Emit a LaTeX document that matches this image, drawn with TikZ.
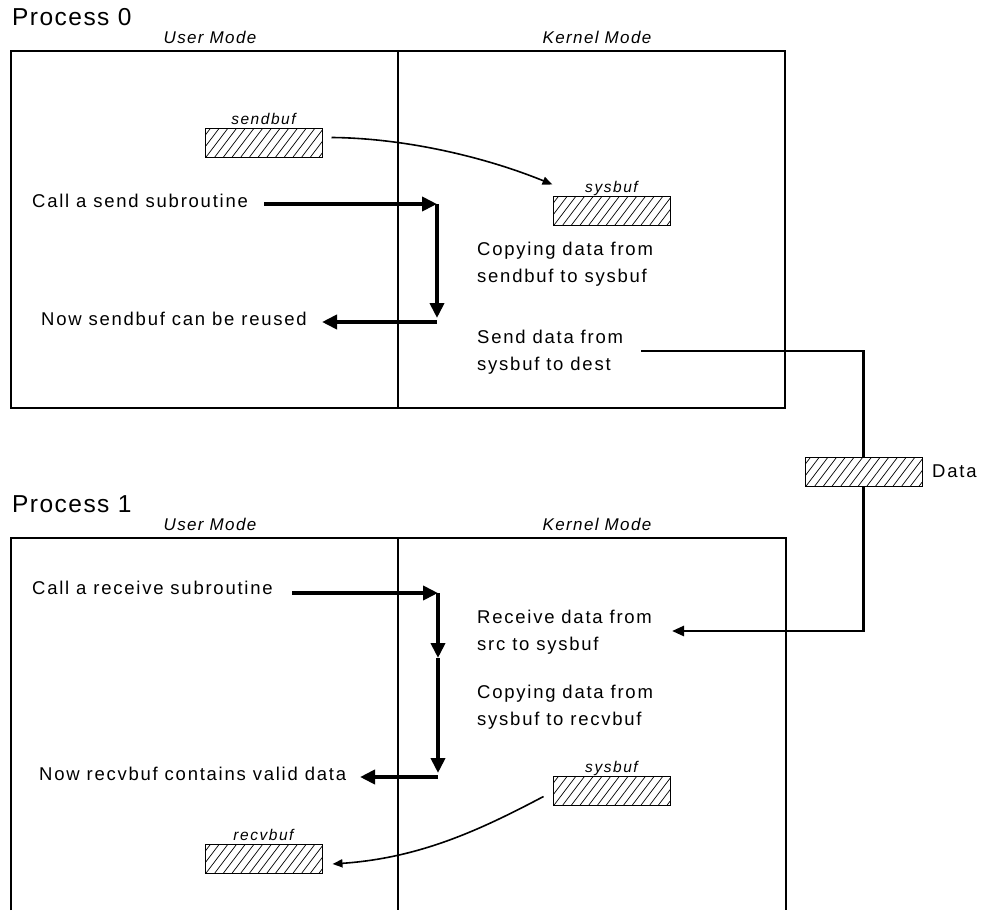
\documentclass[tikz,border=0pt]{standalone}
\usepackage{fontspec}
\setmainfont{Liberation Sans}
\usetikzlibrary{arrows.meta}

\begin{document}
\begin{tikzpicture}[x=1pt,y=-1pt,
  frame/.style={line width=2pt},
  txt/.style={inner sep=0pt, anchor=base west,
    font=\fontsize{18.5}{22}\selectfont\addfontfeature{LetterSpace=9.5}},
  title/.style={inner sep=0pt, anchor=base west,
    font=\fontsize{24.5}{28}\selectfont\addfontfeature{LetterSpace=6}},
  mode/.style={inner sep=0pt, anchor=base,
    font=\fontsize{17}{20}\selectfont\itshape\addfontfeature{LetterSpace=8}},
  buflabel/.style={inner sep=0pt, anchor=base,
    font=\fontsize{15.5}{18}\selectfont\itshape\addfontfeature{LetterSpace=10}},
  buf/.style={draw, line width=1pt, fill=white, minimum width=117pt,
    minimum height=29pt, inner sep=0pt,
    path picture={\foreach \k in {0,...,17}{
      \draw[line width=0.7pt] ([xshift={\k*8.7pt-25pt}]path picture bounding box.south west) -- ++(22,-29);}}},
  bigarrow/.style={line width=4pt, -{Triangle[length=15pt,width=14pt]}},
  copyarrow/.style={line width=1.6pt, -{Triangle[length=10pt,width=8pt]}},
  wire/.style={line width=2.6pt},
  wirearrow/.style={line width=2.6pt, -{Triangle[length=12pt,width=10pt]}}
]
\useasboundingbox (0,0) rectangle (982,910);

% ---------- Process 0 ----------
\node[title] (p0) at (12,25) {Process 0};
\node[mode] (um0) at (210,43) {User Mode};
\node[mode] (km0) at (597,43) {Kernel Mode};
\draw[frame] (11,51) rectangle (785,408);
\draw[frame] (398,51) -- (398,408);

\node[buf] (sendbuf) at (263.5,142.5) {};
\node[buflabel] (sendbufL) at ([yshift=3pt]sendbuf.north) {sendbuf};
\node[buf] (sysbuf0) at (611.5,210.5) {};
\node[buflabel] (sysbuf0L) at ([yshift=3pt]sysbuf0.north) {sysbuf};

\draw[copyarrow] ([xshift=9pt,yshift=5pt]sendbuf.east)
  .. controls (400,138) and (480,155) .. ([yshift=11pt]sysbuf0.north west);

\node[txt] (callsend) at (32,207) {Call a send subroutine};
\node[txt] (reused) at (41,325) {Now sendbuf can be reused};
\node[txt] (cp0a) at (477,255) {Copying data from};
\node[txt] (cp0b) at (477,282) {sendbuf to sysbuf};
\node[txt] (snd0a) at (477,343) {Send data from};
\node[txt] (snd0b) at (477,370) {sysbuf to dest};

\coordinate (s0) at (264,204);
\coordinate (s1) at (437,204);
\coordinate (s2) at (437,318);
\coordinate (s3) at (437,322);
\coordinate (s4) at (322,322);
\draw[bigarrow] (s0) -- (s1);
\draw[bigarrow] (s1) -- (s2);
\draw[bigarrow] (s3) -- (s4);

% ---------- transfer between the processes ----------
\coordinate (w0) at (641,351);
\coordinate (w1) at (672,631);
\node[buf] (databuf) at (863.5,471.5) {};
\node[txt] (dataL) at (932,477) {Data};
\draw[wire] (w0) -| (databuf.north);
\draw[wirearrow] (databuf.south) |- (w1);

% ---------- Process 1 ----------
\node[title] (p1) at (12,512) {Process 1};
\node[mode] (um1) at (210,530) {User Mode};
\node[mode] (km1) at (597,530) {Kernel Mode};
\draw[frame] (11,910) -- (11,538) -- (786,538) -- (786,910);
\draw[frame] (398,538) -- (398,910);

\node[txt] (callrecv) at (32,594) {Call a receive subroutine};
\node[txt] (valid) at (39,780) {Now recvbuf contains valid data};
\node[txt] (rc1a) at (477,623) {Receive data from};
\node[txt] (rc1b) at (477,650) {src to sysbuf};
\node[txt] (cp1a) at (477,698) {Copying data from};
\node[txt] (cp1b) at (477,725) {sysbuf to recvbuf};

\coordinate (r0) at (292,593);
\coordinate (r1) at (438,593);
\coordinate (r2) at (438,658);
\coordinate (r3) at (438,773);
\coordinate (r4) at (438,777);
\coordinate (r5) at (360,777);
\draw[bigarrow] (r0) -- (r1);
\draw[bigarrow] (r1) -- (r2);
\draw[bigarrow] (r2) -- (r3);
\draw[bigarrow] (r4) -- (r5);

\node[buf] (sysbuf1) at (611.5,790.5) {};
\node[buflabel] (sysbuf1L) at ([yshift=3pt]sysbuf1.north) {sysbuf};
\node[buf] (recvbuf) at (263.5,858.5) {};
\node[buflabel] (recvbufL) at ([yshift=3pt]recvbuf.north) {recvbuf};

\draw[copyarrow] ([xshift=-9pt,yshift=-6pt]sysbuf1.west)
  .. controls (480,830) and (420,858) .. ([xshift=10pt,yshift=-5.5pt]recvbuf.east);
\end{tikzpicture}
\end{document}
